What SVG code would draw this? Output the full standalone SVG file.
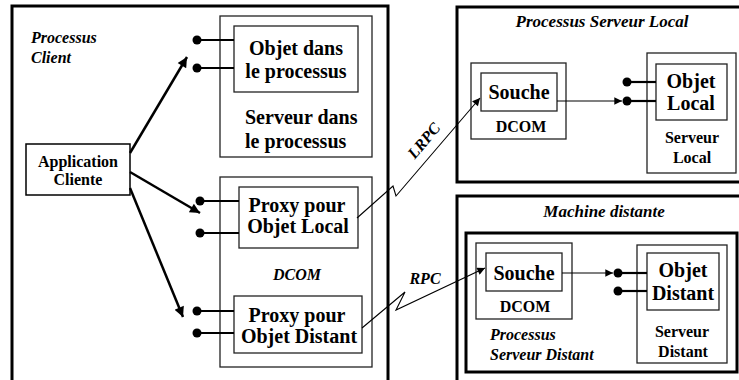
<svg xmlns="http://www.w3.org/2000/svg" width="739" height="380" viewBox="0 0 739 380" font-family="'Liberation Serif', 'Times New Roman', 'DejaVu Serif', serif">
<defs>
<style>
.outer{fill:none;stroke:#000;stroke-width:3}
.thin{fill:#fff;stroke:#222;stroke-width:1.3}
.box{fill:#fff;stroke:#000;stroke-width:1.5}
text{font-family:'Liberation Serif','Times New Roman','DejaVu Serif',serif;font-weight:bold;fill:#000}
.it{font-style:italic}
.c{text-anchor:middle}
.f20{font-size:20px}
.f16{font-size:16px}
.f17{font-size:17px}
.lolly{stroke:#000;stroke-width:2.2}
.arr{stroke:#000;stroke-width:2.5;fill:none}
.wire{stroke:#000;stroke-width:1.1;fill:none}
</style>
<marker id="ah" viewBox="0 0 10 10" refX="10" refY="5" markerWidth="5" markerHeight="4" orient="auto" markerUnits="strokeWidth">
<path d="M0,0 L10,5 L0,10 z" fill="#000"/>
</marker>
<marker id="ahs" viewBox="0 0 10 10" refX="10" refY="5" markerWidth="9" markerHeight="7" orient="auto" markerUnits="strokeWidth">
<path d="M0,0 L10,5 L0,10 z" fill="#000"/>
</marker>
</defs>

<g id="client-process">
<rect class="outer" x="12" y="6" width="376" height="390"/>
<text class="it f16" x="31" y="43">Processus</text>
<text class="it f16" x="31" y="63">Client</text>
</g>

<g id="application">
<rect class="box" x="26" y="144" width="104" height="51"/>
<text class="f16 c" x="78" y="167">Application</text>
<text class="f16 c" x="78" y="185">Cliente</text>
</g>

<g id="inproc-server">
<rect class="thin" x="220" y="16" width="152" height="141"/>
<text class="f20" x="245" y="124">Serveur dans</text>
<text class="f20" x="245" y="148">le processus</text>
</g>

<g id="inproc-object">
<rect class="thin" x="234" y="26" width="124" height="66"/>
<text class="f20 c" x="296" y="55">Objet dans</text>
<text class="f20 c" x="296" y="78">le processus</text>
</g>

<g id="dcom-client">
<rect class="thin" x="220" y="177" width="152" height="190"/>
<text class="it f16 c" x="297" y="280">DCOM</text>
</g>

<g id="proxy-local">
<rect class="thin" x="239" y="187" width="119" height="61"/>
<text class="f20 c" x="297" y="212">Proxy pour</text>
<text class="f20 c" x="298" y="233">Objet Local</text>
</g>

<g id="proxy-distant">
<rect class="thin" x="234" y="296" width="128" height="57"/>
<text class="f20 c" x="297" y="322">Proxy pour</text>
<text class="f20 c" x="299" y="343">Objet Distant</text>
</g>

<g id="local-server-process">
<rect class="outer" x="457" y="7" width="290" height="175"/>
<text class="it f17 c" x="602" y="27">Processus Serveur Local</text>
</g>

<g id="dcom-local">
<rect class="thin" x="471" y="63" width="95" height="76"/>
<text class="f16 c" x="521" y="132">DCOM</text>
</g>

<g id="souche-local">
<rect class="thin" x="481" y="73" width="76" height="38"/>
<text class="f20 c" x="519" y="99">Souche</text>
</g>

<g id="serveur-local">
<rect class="thin" x="647" y="53" width="89" height="120"/>
<text class="f16 c" x="692" y="143">Serveur</text>
<text class="f16 c" x="692" y="163">Local</text>
</g>

<g id="objet-local">
<rect class="thin" x="656" y="64" width="71" height="56"/>
<text class="f20 c" x="691" y="88">Objet</text>
<text class="f20 c" x="691" y="110">Local</text>
</g>

<g id="machine-distante">
<rect class="outer" x="457" y="196" width="290" height="200"/>
<text class="it f17 c" x="604" y="217">Machine distante</text>
</g>

<g id="remote-server-process">
<rect class="outer" x="466" y="233" width="271" height="139"/>
<text class="it f16" x="490" y="340">Processus</text>
<text class="it f16" x="490" y="360">Serveur Distant</text>
</g>

<g id="dcom-distant">
<rect class="thin" x="476" y="243" width="96" height="76"/>
<text class="f16 c" x="525" y="312">DCOM</text>
</g>

<g id="souche-distant">
<rect class="thin" x="486" y="253" width="76" height="38"/>
<text class="f20 c" x="524" y="280">Souche</text>
</g>

<g id="serveur-distant">
<rect class="thin" x="637" y="245" width="90" height="118"/>
<text class="f16 c" x="682" y="337">Serveur</text>
<text class="f16 c" x="683" y="357">Distant</text>
</g>

<g id="objet-distant">
<rect class="thin" x="647" y="253" width="72" height="57"/>
<text class="f20 c" x="683" y="277">Objet</text>
<text class="f20 c" x="683" y="300">Distant</text>
</g>

<g id="connectors">
<g class="lolly">
<line x1="197" y1="40" x2="234" y2="40"/>
<line x1="197" y1="68" x2="234" y2="68"/>
<line x1="200" y1="201" x2="239" y2="201"/>
<line x1="200" y1="233" x2="239" y2="233"/>
<line x1="197" y1="311" x2="234" y2="311"/>
<line x1="197" y1="333" x2="234" y2="333"/>
<line x1="627" y1="82" x2="656" y2="82"/>
<line x1="627" y1="101" x2="656" y2="101"/>
<line x1="618" y1="273" x2="647" y2="273"/>
<line x1="618" y1="291" x2="647" y2="291"/>
</g>
<g fill="#000">
<circle cx="197" cy="40" r="4.5"/>
<circle cx="197" cy="68" r="4.5"/>
<circle cx="200" cy="201" r="4.5"/>
<circle cx="200" cy="233" r="4.5"/>
<circle cx="197" cy="311" r="4.5"/>
<circle cx="197" cy="333" r="4.5"/>
<circle cx="627" cy="82" r="4.5"/>
<circle cx="627" cy="101" r="4.5"/>
<circle cx="618" cy="273" r="4.5"/>
<circle cx="618" cy="291" r="4.5"/>
</g>
<line class="arr" x1="130" y1="153" x2="187" y2="57" marker-end="url(#ah)"/>
<line class="arr" x1="130" y1="172" x2="200" y2="213" marker-end="url(#ah)"/>
<line class="arr" x1="130" y1="188" x2="183" y2="317" marker-end="url(#ah)"/>
<polyline class="wire" points="357,218 393,186 396,196 480,98" marker-end="url(#ahs)"/>
<text class="it f16 c" transform="translate(428,144) rotate(-50)">LRPC</text>
<polyline class="wire" points="362,328 405,292 396,310 485,268" marker-end="url(#ahs)"/>
<text class="it f16 c" x="425" y="284">RPC</text>
<line class="wire" x1="557" y1="101" x2="622" y2="101" marker-end="url(#ahs)"/>
<line class="wire" x1="562" y1="273" x2="613" y2="273" marker-end="url(#ahs)"/>
</g>
</svg>
